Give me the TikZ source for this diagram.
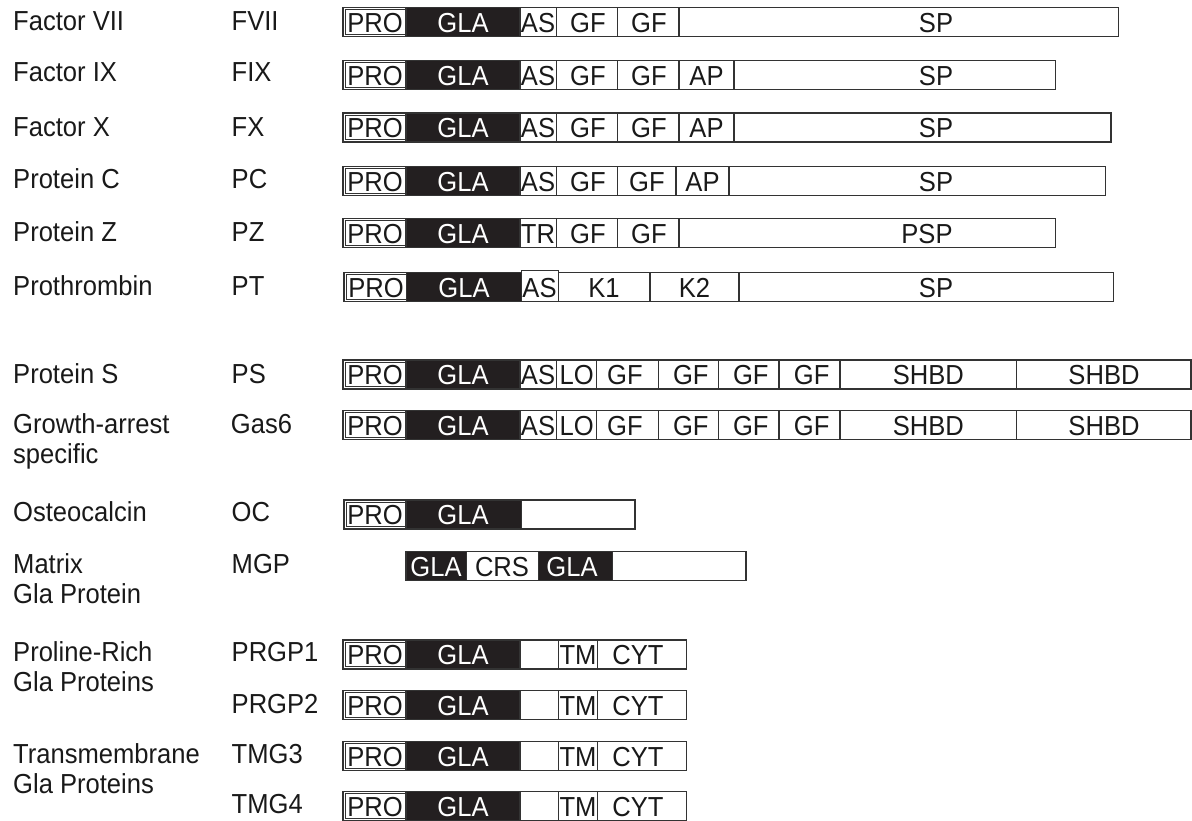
\documentclass[tikz,border=0pt]{standalone}
\usepackage{fontspec}
\setmainfont{Liberation Sans}[FakeStretch=0.93]
\definecolor{ink}{HTML}{333333}
\definecolor{glafill}{HTML}{231F20}
\newcommand\gcell[3]{\draw[cellline] (#1,#3-14.5) rectangle (#2,#3+14.5);}
\newcommand\gbcell[3]{\draw[cellline,fill=glafill] (#1,#3-14.5) rectangle (#2,#3+14.5);}
\newcommand\gpcell[3]{\draw[cellline] (#1,#3-14.5) rectangle (#2,#3+14.5);\draw[proline] (#1+2.2,#3-12.3) rectangle (#2-0.5,#3+12.3);}
\newcommand\glab[4]{\node[dtext] (#1) at (#2,#3+1) {#4};}
\newcommand\gwlab[4]{\node[wtext] (#1) at (#2,#3+1) {#4};}
\begin{document}
\begin{tikzpicture}[x=1pt,y=-1pt,
  cellline/.style={draw=ink,line width=1.1pt},
  proline/.style={draw=ink,line width=0.7pt},
  every node/.style={font=\fontsize{27.5}{30}\selectfont, inner sep=0pt},
  dtext/.style={text=black!90},
  wtext/.style={text=white},
  ltext/.style={anchor=base west,text=black!90}]
\useasboundingbox (0,0) rectangle (1192,820);

% ---------- left labels ----------
\node[ltext] (n1) at (13,30) {Factor VII};
\node[ltext] (n2) at (13,81.7) {Factor IX};
\node[ltext] (n3) at (13,136.7) {Factor X};
\node[ltext] (n4) at (13,188.3) {Protein C};
\node[ltext] (n5) at (13,241.7) {Protein Z};
\node[ltext] (n6) at (13,295) {Prothrombin};
\node[ltext] (n7) at (13,383.3) {Protein S};
\node[ltext] (n8a) at (13,433.3) {Growth-arrest};
\node[ltext] (n8b) at (13,463.3) {specific};
\node[ltext] (n9) at (13,521.7) {Osteocalcin};
\node[ltext] (n10a) at (13,573.3) {Matrix};
\node[ltext] (n10b) at (13,603.3) {Gla Protein};
\node[ltext] (n11a) at (13,661.7) {Proline-Rich};
\node[ltext] (n11b) at (13,691.7) {Gla Proteins};
\node[ltext] (n13a) at (13,763.3) {Transmembrane};
\node[ltext] (n13b) at (13,793.3) {Gla Proteins};

\node[ltext] (a1) at (231.5,30) {FVII};
\node[ltext] (a2) at (231.5,81.7) {FIX};
\node[ltext] (a3) at (231.5,136.7) {FX};
\node[ltext] (a4) at (231.5,188.3) {PC};
\node[ltext] (a5) at (231.5,241.7) {PZ};
\node[ltext] (a6) at (231.5,295) {PT};
\node[ltext] (a7) at (231.5,383.3) {PS};
\node[ltext] (a8) at (230.7,433.3) {Gas6};
\node[ltext] (a9) at (231.5,521.7) {OC};
\node[ltext] (a10) at (231.5,573.3) {MGP};
\node[ltext] (a11) at (231.5,661.7) {PRGP1};
\node[ltext] (a12) at (231.5,713.3) {PRGP2};
\node[ltext] (a13) at (231.5,763.3) {TMG3};
\node[ltext] (a14) at (231.5,813.3) {TMG4};

% ---------- Row 1 FVII ----------
\gpcell{343}{406}{22}\gbcell{406}{520}{22}\gcell{520}{556.7}{22}\gcell{556.7}{617.3}{22}\gcell{617.3}{679}{22}\gcell{679}{1118.3}{22}
\glab{r1a}{375}{22}{PRO}\gwlab{r1b}{463}{22}{GLA}\glab{r1c}{538}{22}{AS}\glab{r1d}{588}{22}{GF}\glab{r1e}{649}{22}{GF}\glab{r1f}{936}{22}{SP}

% ---------- Row 2 FIX ----------
\gpcell{343}{406}{75}\gbcell{406}{520}{75}\gcell{520}{556.7}{75}\gcell{556.7}{617.3}{75}\gcell{617.3}{679}{75}\gcell{679}{734}{75}\gcell{734}{1055.7}{75}
\glab{r2a}{375}{75}{PRO}\gwlab{r2b}{463}{75}{GLA}\glab{r2c}{538}{75}{AS}\glab{r2d}{588}{75}{GF}\glab{r2e}{649}{75}{GF}\glab{r2g}{706.5}{75}{AP}\glab{r2f}{936}{75}{SP}

% ---------- Row 3 FX ----------
\gpcell{343}{406}{127.5}\gbcell{406}{520}{127.5}\gcell{520}{556.7}{127.5}\gcell{556.7}{617.3}{127.5}\gcell{617.3}{679}{127.5}\gcell{679}{734}{127.5}\gcell{734}{1111}{127.5}
\glab{r3a}{375}{127.5}{PRO}\gwlab{r3b}{463}{127.5}{GLA}\glab{r3c}{538}{127.5}{AS}\glab{r3d}{588}{127.5}{GF}\glab{r3e}{649}{127.5}{GF}\glab{r3g}{706.5}{127.5}{AP}\glab{r3f}{936}{127.5}{SP}

% ---------- Row 4 PC ----------
\gpcell{343}{406}{181}\gbcell{406}{520}{181}\gcell{520}{556.7}{181}\gcell{556.7}{617.3}{181}\gcell{617.3}{676}{181}\gcell{676}{729}{181}\gcell{729}{1105.7}{181}
\glab{r4a}{375}{181}{PRO}\gwlab{r4b}{463}{181}{GLA}\glab{r4c}{538}{181}{AS}\glab{r4d}{588}{181}{GF}\glab{r4e}{647}{181}{GF}\glab{r4g}{702.5}{181}{AP}\glab{r4f}{936}{181}{SP}

% ---------- Row 5 PZ ----------
\gpcell{343}{406}{233}\gbcell{406}{520}{233}\gcell{520}{556.7}{233}\gcell{556.7}{617.3}{233}\gcell{617.3}{679}{233}\gcell{679}{1055.7}{233}
\glab{r5a}{375}{233}{PRO}\gwlab{r5b}{463}{233}{GLA}\glab{r5c}{538}{233}{TR}\glab{r5d}{588}{233}{GF}\glab{r5e}{649}{233}{GF}\glab{r5f}{927}{233}{PSP}

% ---------- Row 6 PT ----------
\gpcell{344}{406.7}{287}\gbcell{406.7}{521.7}{287}\draw[cellline] (521.7,270.5) rectangle (558.3,301.5);\gcell{558.3}{650}{287}\gcell{650}{739}{287}\gcell{739}{1113.3}{287}
\glab{r6a}{376}{287}{PRO}\gwlab{r6b}{464}{287}{GLA}\glab{r6c}{539.5}{287}{AS}\glab{r6d}{604}{287}{K1}\glab{r6e}{694.5}{287}{K2}\glab{r6f}{936}{287}{SP}

% ---------- Row 7 PS ----------
\gpcell{343}{406}{374.5}\gbcell{406}{520}{374.5}\gcell{520}{556.7}{374.5}\gcell{556.7}{596.7}{374.5}\gcell{596.7}{658.3}{374.5}\gcell{658.3}{718.3}{374.5}\gcell{718.3}{779}{374.5}\gcell{779}{840}{374.5}\gcell{840}{1016.7}{374.5}\gcell{1016.7}{1191}{374.5}
\glab{r7a}{375}{374.5}{PRO}\gwlab{r7b}{463}{374.5}{GLA}\glab{r7c}{538}{374.5}{AS}\glab{r7d}{576.7}{374.5}{LO}\glab{r7e}{625}{374.5}{GF}\glab{r7f}{690.8}{374.5}{GF}\glab{r7g}{750.8}{374.5}{GF}\glab{r7h}{811.7}{374.5}{GF}\glab{r7i}{928.3}{374.5}{SHBD}\glab{r7j}{1104}{374.5}{SHBD}

% ---------- Row 8 Gas6 ----------
\gpcell{343}{406}{425}\gbcell{406}{520}{425}\gcell{520}{556.7}{425}\gcell{556.7}{596.7}{425}\gcell{596.7}{658.3}{425}\gcell{658.3}{718.3}{425}\gcell{718.3}{779}{425}\gcell{779}{840}{425}\gcell{840}{1016.7}{425}\gcell{1016.7}{1191}{425}
\glab{r8a}{375}{425}{PRO}\gwlab{r8b}{463}{425}{GLA}\glab{r8c}{538}{425}{AS}\glab{r8d}{576.7}{425}{LO}\glab{r8e}{625}{425}{GF}\glab{r8f}{690.8}{425}{GF}\glab{r8g}{750.8}{425}{GF}\glab{r8h}{811.7}{425}{GF}\glab{r8i}{928.3}{425}{SHBD}\glab{r8j}{1104}{425}{SHBD}

% ---------- Row 9 OC ----------
\gpcell{344}{406}{514.5}\gbcell{406}{521.7}{514.5}\gcell{521.7}{635}{514.5}
\glab{r9a}{375}{514.5}{PRO}\gwlab{r9b}{463}{514.5}{GLA}

% ---------- Row 10 MGP ----------
\gbcell{406}{466.7}{566}\gcell{466.7}{538.3}{566}\gbcell{538.3}{612.7}{566}\gcell{612.7}{746}{566}
\gwlab{r10a}{436}{566}{GLA}\glab{r10b}{502}{566}{CRS}\gwlab{r10c}{572}{566}{GLA}

% ---------- Rows 11-14 PRGP / TMG ----------
\gpcell{343}{406}{654.5}\gbcell{406}{520}{654.5}\gcell{520}{558.3}{654.5}\gcell{558.3}{597.3}{654.5}\gcell{597.3}{686.7}{654.5}
\glab{r11a}{375}{654.5}{PRO}\gwlab{r11b}{463}{654.5}{GLA}\glab{r11c}{578}{654.5}{TM}\glab{r11d}{638}{654.5}{CYT}

\gpcell{343}{406}{705}\gbcell{406}{520}{705}\gcell{520}{558.3}{705}\gcell{558.3}{597.3}{705}\gcell{597.3}{686.7}{705}
\glab{r12a}{375}{705}{PRO}\gwlab{r12b}{463}{705}{GLA}\glab{r12c}{578}{705}{TM}\glab{r12d}{638}{705}{CYT}

\gpcell{343}{406}{756}\gbcell{406}{520}{756}\gcell{520}{558.3}{756}\gcell{558.3}{597.3}{756}\gcell{597.3}{686.7}{756}
\glab{r13a}{375}{756}{PRO}\gwlab{r13b}{463}{756}{GLA}\glab{r13c}{578}{756}{TM}\glab{r13d}{638}{756}{CYT}

\gpcell{343}{406}{806}\gbcell{406}{520}{806}\gcell{520}{558.3}{806}\gcell{558.3}{597.3}{806}\gcell{597.3}{686.7}{806}
\glab{r14a}{375}{806}{PRO}\gwlab{r14b}{463}{806}{GLA}\glab{r14c}{578}{806}{TM}\glab{r14d}{638}{806}{CYT}
\end{tikzpicture}
\end{document}
